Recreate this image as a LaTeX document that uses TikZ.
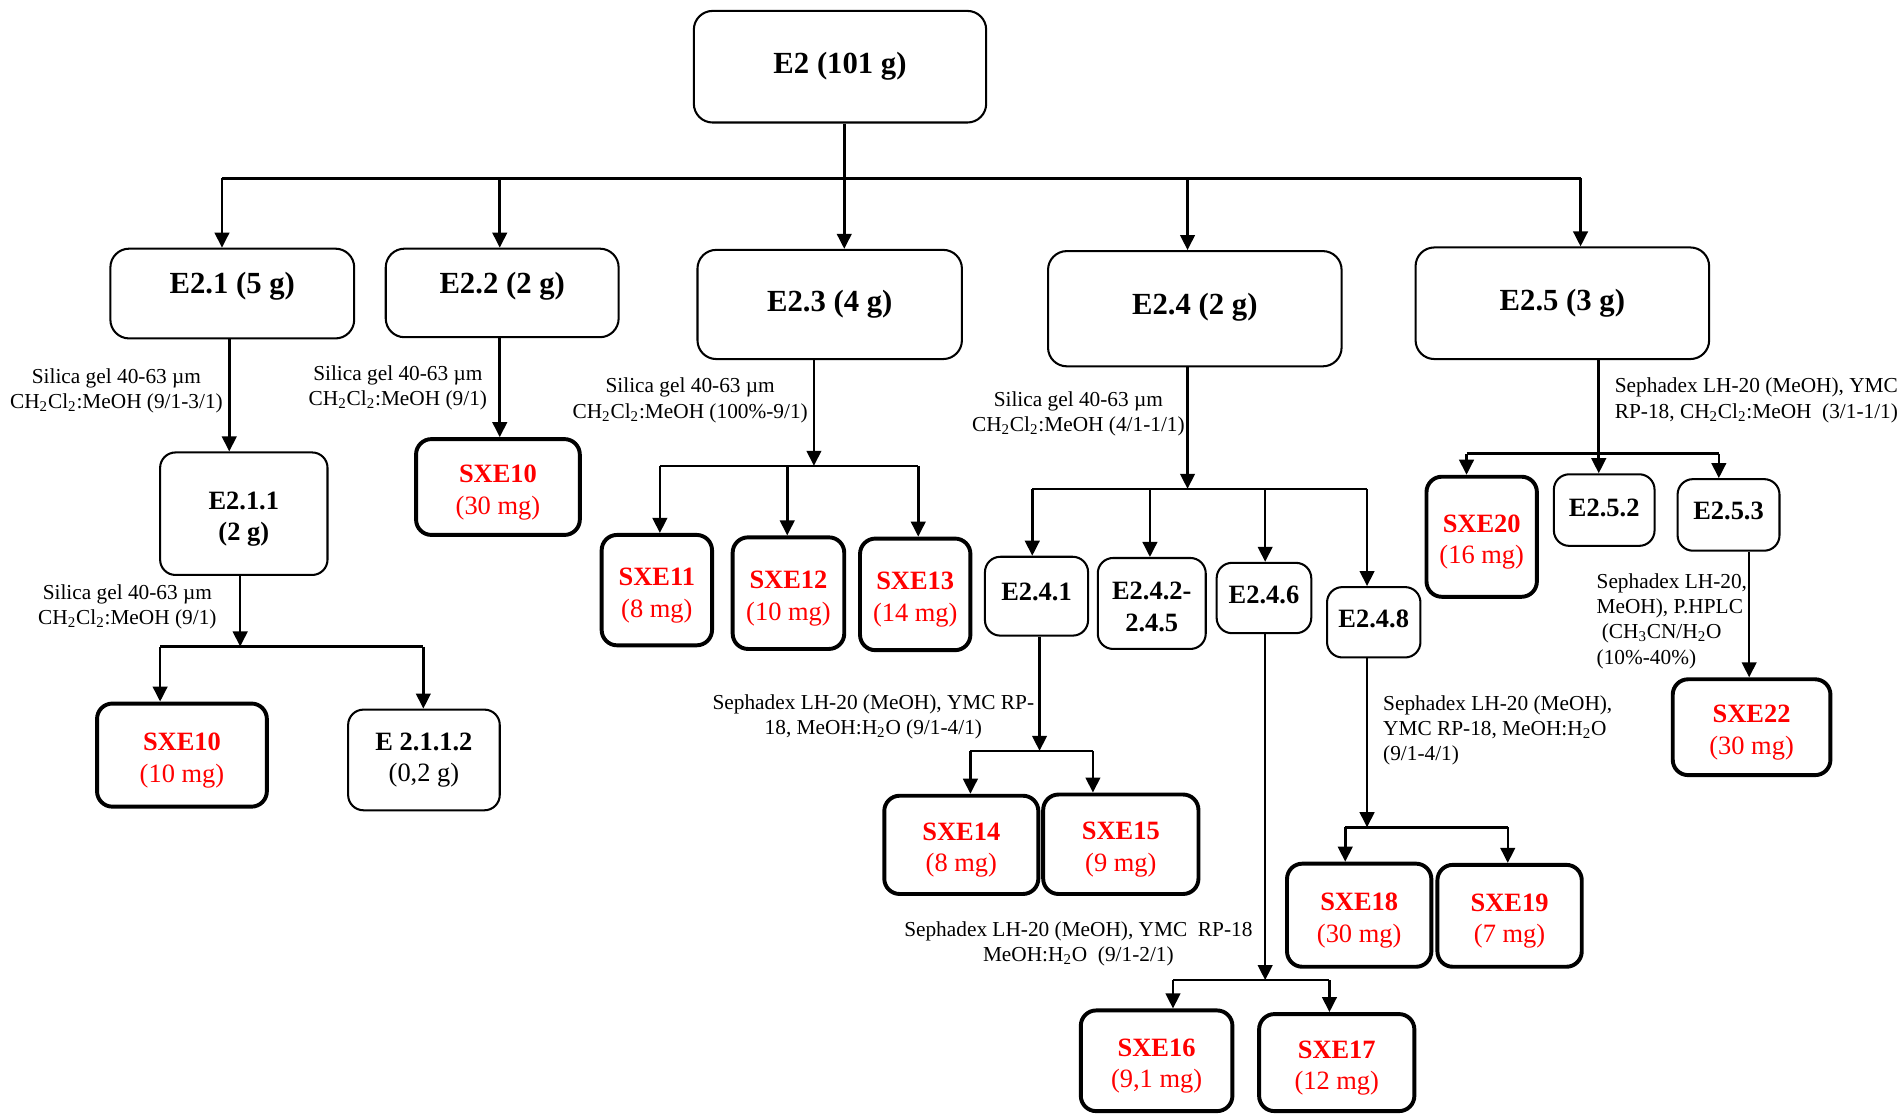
\documentclass[tikz,border=0pt]{standalone}
\usepackage{fontspec}
\setmainfont{Liberation Serif}
\usetikzlibrary{arrows.meta}
\newcommand{\pname}[2]{\rule{0pt}{16.5pt}\textbf{#1}\\(#2)}

\begin{document}
\begin{tikzpicture}[x=0.025cm,y=-0.025cm,
	sz/.style 2 args={minimum width=#1*0.025cm,minimum height=#2*0.025cm},
	frac/.style={draw,rounded corners=9pt,line width=1.2pt,inner sep=0pt,align=center,font=\fontsize{15.5}{18.5}\selectfont\bfseries},
	top/.style={frac,rounded corners=11pt,font=\fontsize{18}{22}\selectfont\bfseries},
	pure/.style={frac,line width=2.3pt,text=red,font=\fontsize{15.5}{18.5}\selectfont},
	lift/.style={execute at begin node={\rule[-#1]{0pt}{0pt}}},
	cond/.style={inner sep=0pt,align=center,font=\fontsize{12.5}{14.8}\selectfont},
	line/.style={line width=1.5pt},
	arr/.style={line,-{Triangle[length=0.31cm,width=0.3cm]}}]
	\useasboundingbox (0,0) rectangle (1568,919);

	\node[top,sz={241}{92}] (e2) at (692.5,55) {E2 (101 g)};
	\node[top,lift=12pt,sz={201}{74}] (e21) at (191.5,242) {E2.1 (5 g)};
	\node[top,lift=12pt,sz={192}{73}] (e22) at (414,241.5) {E2.2 (2 g)};
	\node[top,sz={218}{90}] (e23) at (684,251) {E2.3 (4 g)};
	\node[top,lift=6pt,sz={242}{95}] (e24) at (985,254.5) {E2.4 (2 g)};
	\node[top,sz={242}{92}] (e25) at (1288,250) {E2.5 (3 g)};

	\node[frac,sz={138}{101}] (e211) at (201,423.5) {\rule{0pt}{16.5pt}E2.1.1\\(2 g)};
	\node[pure,sz={140}{85}] (s10a) at (150,622.5) {\pname{SXE10}{10 mg}};
	\node[frac,sz={125}{83}] (e2112) at (349.5,626.5) {E 2.1.1.2\\\textmd{(0,2 g)}};
	\node[pure,sz={135}{79}] (s10b) at (410.5,401.5) {\pname{SXE10}{30 mg}};

	\node[pure,sz={91}{91}] (s11) at (541.5,486.5) {\pname{SXE11}{8 mg}};
	\node[pure,sz={92}{92}] (s12) at (650,489) {\pname{SXE12}{10 mg}};
	\node[pure,sz={91}{92}] (s13) at (754.5,490) {\pname{SXE13}{14 mg}};

	\node[frac,lift=5pt,sz={85}{65}] (e241) at (854.5,491.5) {E2.4.1};
	\node[frac,sz={89}{75}] (e242) at (949.5,497.5) {\rule{0pt}{14pt}E2.4.2-\\2.4.5};
	\node[frac,lift=4pt,sz={78}{58}] (e246) at (1042,493) {E2.4.6};
	\node[frac,lift=4pt,sz={77}{58}] (e248) at (1132.5,513) {E2.4.8};
	\node[pure,sz={127}{81}] (s14) at (792.5,696.5) {\pname{SXE14}{8 mg}};
	\node[pure,sz={128}{82}] (s15) at (924,696) {\pname{SXE15}{9 mg}};
	\node[pure,sz={125}{83}] (s16) at (953.5,874.5) {\pname{SXE16}{9,1 mg}};
	\node[pure,sz={128}{80}] (s17) at (1102,876) {\pname{SXE17}{12 mg}};
	\node[pure,sz={119}{85}] (s18) at (1120.5,754.5) {\pname{SXE18}{30 mg}};
	\node[pure,sz={119}{84}] (s19) at (1244.5,755) {\pname{SXE19}{7 mg}};

	\node[pure,sz={91}{99}] (s20) at (1221.5,442.5) {\pname{SXE20}{16 mg}};
	\node[frac,lift=3pt,sz={83}{59}] (e252) at (1322.5,420.5) {E2.5.2};
	\node[frac,lift=5pt,sz={84}{59}] (e253) at (1425,424.5) {E2.5.3};
	\node[pure,sz={130}{79}] (s22) at (1444,599.5) {\pname{SXE22}{30 mg}};

	\node[cond] (c21) at (96,322) {Silica gel 40-63 µm\\CH\textsubscript{2}Cl\textsubscript{2}:MeOH (9/1-3/1)};
	\node[cond] (c211) at (105,500) {Silica gel 40-63 µm\\CH\textsubscript{2}Cl\textsubscript{2}:MeOH (9/1)};
	\node[cond] (c22) at (328,320) {Silica gel 40-63 µm\\CH\textsubscript{2}Cl\textsubscript{2}:MeOH (9/1)};
	\node[cond] (c23) at (569,330) {Silica gel 40-63 µm\\CH\textsubscript{2}Cl\textsubscript{2}:MeOH (100\%-9/1)};
	\node[cond] (c24) at (889,341) {Silica gel 40-63 µm\\CH\textsubscript{2}Cl\textsubscript{2}:MeOH (4/1-1/1)};
	\node[cond] (c241) at (720,591) {Sephadex LH-20 (MeOH), YMC RP-\\18, MeOH:H\textsubscript{2}O (9/1-4/1)};
	\node[cond] (c246) at (889,778) {Sephadex LH-20 (MeOH), YMC\ \ RP-18\\MeOH:H\textsubscript{2}O\ \ (9/1-2/1)};
	\node[cond,anchor=west,align=left] (c248) at (1140,602) {Sephadex LH-20 (MeOH),\\YMC RP-18, MeOH:H\textsubscript{2}O\\(9/1-4/1)};
	\node[cond,anchor=west,align=left] (c25) at (1331,330) {Sephadex LH-20 (MeOH), YMC\\RP-18, CH\textsubscript{2}Cl\textsubscript{2}:MeOH\ \ (3/1-1/1)};
	\node[cond,anchor=west,align=left] (c253) at (1316,512) {Sephadex LH-20,\\MeOH), P.HPLC\\\hspace{3pt}(CH\textsubscript{3}CN/H\textsubscript{2}O\\(10\%-40\%)};

	% E2
	\coordinate (j0) at (696,147);
	\draw[line] (e2.south -| j0) -- (j0);
	\draw[line] (183,147) -- (1303,147);
	\foreach \x/\n in {183/e21,412/e22,696/e23,979/e24,1303/e25}{
		\coordinate (p) at (\x,147);
		\draw[arr] (p) -- (p |- \n.north);
	}

	% E2.1 and E2.2
	\coordinate (j21) at (189,326);
	\draw[arr] (e21.south -| j21) -- (e211.north -| j21);
	\coordinate (j211) at (198,533);
	\draw[arr] (e211.south -| j211) -- (j211);
	\draw[line] (132,533) -- (349,533);
	\foreach \x/\n in {132/s10a,349/e2112}{
		\coordinate (p) at (\x,533);
		\draw[arr] (p) -- (p |- \n.north);
	}
	\coordinate (j22) at (412,320);
	\draw[arr] (e22.south -| j22) -- (s10b.north -| j22);

	% E2.3
	\coordinate (j23) at (671,384);
	\draw[arr] (e23.south -| j23) -- (j23);
	\draw[line] (544,384) -- (757,384);
	\foreach \x/\n in {544/s11,649/s12,757/s13}{
		\coordinate (p) at (\x,384);
		\draw[arr] (p) -- (p |- \n.north);
	}

	% E2.4
	\coordinate (j24) at (979,403);
	\draw[arr] (e24.south -| j24) -- (j24);
	\draw[line] (851,403) -- (1127,403);
	\foreach \x/\n in {851/e241,948/e242,1043/e246,1127/e248}{
		\coordinate (p) at (\x,403);
		\draw[arr] (p) -- (p |- \n.north);
	}
	\coordinate (j241) at (857,619);
	\draw[arr] (e241.south -| j241) -- (j241);
	\draw[line] (800,619) -- (901,619);
	\foreach \x/\n in {800/s14,901/s15}{
		\coordinate (p) at (\x,619);
		\draw[arr] (p) -- (p |- \n.north);
	}
	\coordinate (j246) at (1043,808);
	\draw[arr] (e246.south -| j246) -- (j246);
	\draw[line] (967,808) -- (1096,808);
	\foreach \x/\n in {967/s16,1096/s17}{
		\coordinate (p) at (\x,808);
		\draw[arr] (p) -- (p |- \n.north);
	}
	\coordinate (j248) at (1127,682);
	\draw[arr] (e248.south -| j248) -- (j248);
	\draw[line] (1109,682) -- (1243,682);
	\foreach \x/\n in {1109/s18,1243/s19}{
		\coordinate (p) at (\x,682);
		\draw[arr] (p) -- (p |- \n.north);
	}

	% E2.5
	\coordinate (j25) at (1318,374);
	\draw[arr] (e25.south -| j25) -- (e252.north -| j25);
	\draw[line] (1209,374) -- (1417,374);
	\foreach \x/\n in {1209/s20,1417/e253}{
		\coordinate (p) at (\x,374);
		\draw[arr] (p) -- (p |- \n.north);
	}
	\coordinate (j253) at (1442,500);
	\draw[arr] (e253.south -| j253) -- (s22.north -| j253);
\end{tikzpicture}
\end{document}
